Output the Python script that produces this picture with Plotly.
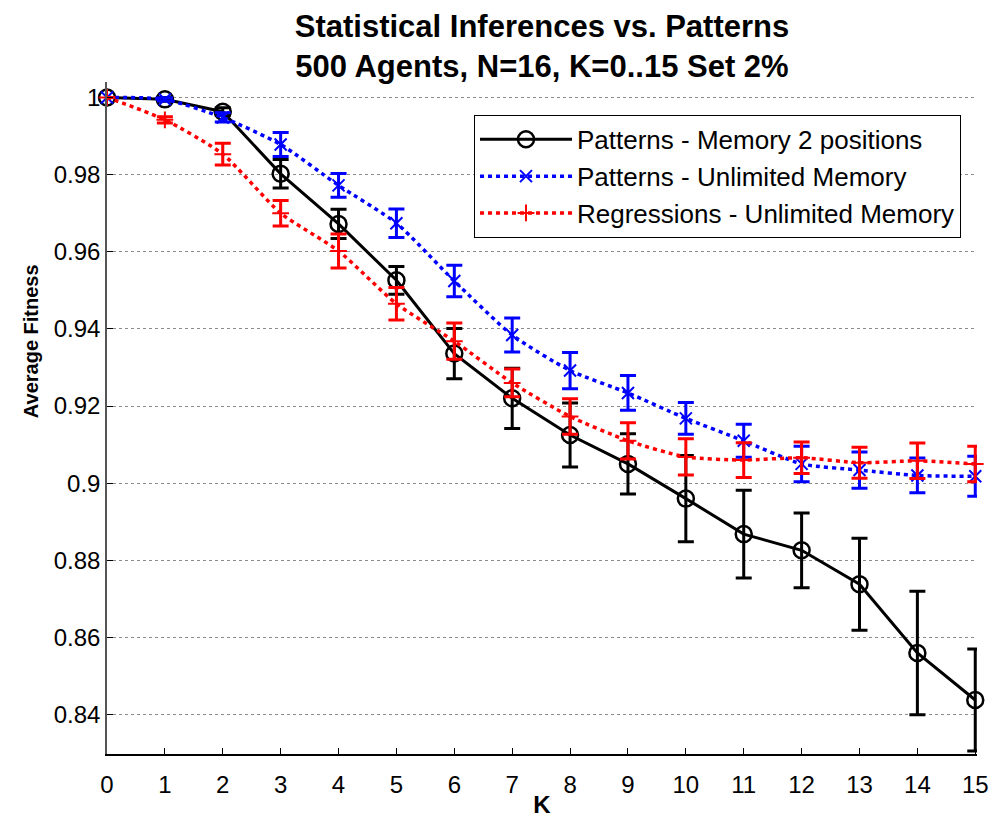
import plotly.graph_objects as go

K = list(range(16))

mem2_mean = [1.0, 0.9995, 0.9963, 0.9802, 0.9672, 0.9526, 0.9336, 0.9220,
             0.9125, 0.9050, 0.8960, 0.8868, 0.8826, 0.8738, 0.8560, 0.8438]
mem2_err = [0.0, 0.0005, 0.0010, 0.0037, 0.0038, 0.0036, 0.0065, 0.0078,
            0.0083, 0.0078, 0.0112, 0.0114, 0.0097, 0.0119, 0.0160, 0.0132]

unl_mean = [1.0, 0.9995, 0.9948, 0.9878, 0.9772, 0.9674, 0.9524, 0.9384,
            0.9292, 0.9234, 0.9168, 0.9110, 0.9050, 0.9034, 0.9020, 0.9018]
unl_err = [0.0, 0.0004, 0.0012, 0.0031, 0.0031, 0.0037, 0.0041, 0.0044,
           0.0047, 0.0045, 0.0041, 0.0043, 0.0046, 0.0047, 0.0045, 0.0052]

reg_mean = [1.0, 0.9942, 0.9853, 0.9700, 0.9602, 0.9465, 0.9368, 0.9260,
            0.9173, 0.9110, 0.9068, 0.9060, 0.9066, 0.9053, 0.9058, 0.9050]
reg_err = [0.0, 0.0008, 0.0028, 0.0033, 0.0044, 0.0042, 0.0047, 0.0036,
           0.0046, 0.0047, 0.0047, 0.0045, 0.0041, 0.0040, 0.0046, 0.0046]

series_names = ["Patterns - Memory 2 positions",
                "Patterns - Unlimited Memory",
                "Regressions - Unlimited Memory"]

y_tickvals = [0.84, 0.86, 0.88, 0.90, 0.92, 0.94, 0.96, 0.98, 1.0]
y_ticktext = ["0.84", "0.86", "0.88", "0.9", "0.92", "0.94", "0.96", "0.98", "1"]

FONT = "Liberation Sans, Arial, sans-serif"

fig = go.Figure()

fig.add_trace(go.Scatter(
    x=K, y=mem2_mean, name=series_names[0], mode="lines+markers",
    line=dict(color="black", width=3),
    marker=dict(symbol="circle-open", size=16, color="black", line=dict(width=2.5)),
    error_y=dict(type="data", array=mem2_err, visible=True, color="black",
                 thickness=3, width=8),
    cliponaxis=False, legendgroup="a",
))
fig.add_trace(go.Scatter(
    x=K, y=unl_mean, name=series_names[1], mode="lines+markers",
    line=dict(color="#0000ff", width=3.5, dash="4px,4px", shape="spline", smoothing=0.6),
    marker=dict(symbol="x-thin", size=12, color="#0000ff", line=dict(width=2, color="#0000ff")),
    error_y=dict(type="data", array=unl_err, visible=True, color="#0000ff",
                 thickness=3, width=8),
    cliponaxis=False, legendgroup="b",
))
fig.add_trace(go.Scatter(
    x=K, y=reg_mean, name=series_names[2], mode="lines+markers",
    line=dict(color="#ff0000", width=3.5, dash="4px,4px", shape="spline", smoothing=0.6),
    marker=dict(symbol="cross-thin", size=12, color="#ff0000", line=dict(width=2, color="#ff0000")),
    error_y=dict(type="data", array=reg_err, visible=True, color="#ff0000",
                 thickness=3, width=8),
    cliponaxis=False, legendgroup="c",
))

fig.update_layout(
    width=990, height=822,
    margin=dict(l=107, r=13, t=82, b=68),
    paper_bgcolor="white", plot_bgcolor="white",
    font=dict(family=FONT, color="black"),
    title=dict(text="<b>Statistical Inferences vs. Patterns<br>500 Agents, N=16, K=0..15 Set 2%</b>",
               x=0.5, xref="paper", xanchor="center", y=0.955, yanchor="top",
               font=dict(size=31, family=FONT, color="black")),
    xaxis=dict(range=[0, 15.03], tickmode="array", tickvals=K, automargin=False,
               ticks="inside", ticklen=6, tickcolor="black", showgrid=False,
               showline=True, linecolor="black", linewidth=1.5, zeroline=False,
               tickfont=dict(size=24, family=FONT), ticklabelstandoff=8,
               title=dict(text="<b>K</b>", font=dict(size=24, family=FONT), standoff=0)),
    yaxis=dict(range=[0.8298, 1.004], tickmode="array", tickvals=y_tickvals, automargin=False,
               ticktext=y_ticktext, ticks="inside", ticklen=6, tickcolor="black",
               showgrid=True, gridcolor="#8c8c8c", gridwidth=1, griddash="dot",
               showline=True, linecolor="#555", linewidth=1.5, zeroline=False,
               tickfont=dict(size=24, family=FONT)),
    legend=dict(x=0.9816, xanchor="right", y=0.951, yanchor="top",
                bgcolor="white", bordercolor="black", borderwidth=1,
                font=dict(size=26, family=FONT), itemwidth=92,
                tracegroupgap=3, traceorder="normal"),
    annotations=[dict(text="<b>Average Fitness</b>", textangle=-90,
                      xref="paper", yref="paper", x=-0.088, y=0.615,
                      xanchor="center", yanchor="middle", showarrow=False,
                      font=dict(size=20, family=FONT))],
)

fig.write_html("out.html")
